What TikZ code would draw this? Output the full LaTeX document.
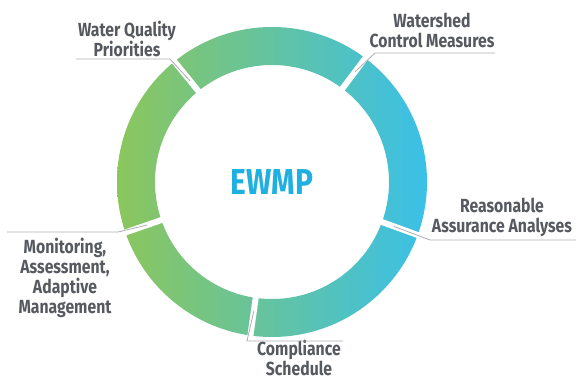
\documentclass[tikz,border=0pt]{standalone}
\usepackage{fontspec}
\usetikzlibrary{calc}
\newfontfamily\labelfont[FakeStretch=0.83]{Fira Sans}
\definecolor{ringgreen}{RGB}{140,198,92}
\definecolor{ringblue}{RGB}{58,192,232}
\definecolor{labelgray}{RGB}{86,90,96}
\definecolor{leadergray}{RGB}{170,175,182}
\definecolor{titleblue}{RGB}{32,175,225}

\begin{document}
\begin{tikzpicture}[x=1pt, y=1pt,
  label/.style={align=center, inner sep=0pt, text=labelgray,
    font={\labelfont\bfseries\fontsize{19}{20}\selectfont}},
  leader/.style={leadergray, line width=0.8pt},
  gap/.style={white, line width=6pt}]
\useasboundingbox (0, 0) rectangle (576, 381);
\coordinate (c) at (272, 199);
% ring
\shade[left color=ringgreen, right color=ringblue, even odd rule]
  (c) circle (155) (c) circle (117);
\foreach \a in {129, 53, -20, -98, -161}
  \draw[gap] ($(c)+(\a:110)$) -- ($(c)+(\a:162)$);
% centre title
\node[text=titleblue, font={\labelfont\bfseries\fontsize{36}{40}\selectfont}] (ewmp) at (c) {EWMP};
% labels
\node[label] (wqp) at (127, 342) {Water Quality\\Priorities};
\node[label] (wcm) at (432, 351) {Watershed\\Control Measures};
\node[label] (raa) at (502, 164) {Reasonable\\Assurance Analyses};
\node[label] (cs) at (299, 23) {Compliance\\Schedule};
\node[label] (maam) at (65, 103) {Monitoring,\\Assessment,\\Adaptive\\Management};
% leader lines
\coordinate (wqpk) at (170, 322);
\coordinate (wcmk) at (375, 328);
\coordinate (raak) at (430, 141);
\coordinate (csk) at (247, 40);
\coordinate (maamk) at (118, 149);
\draw[leader] (76, 322) -- (wqpk) -- ($(c)+(129:130)$);
\draw[leader] (495, 328) -- (wcmk) -- ($(c)+(53:138)$);
\draw[leader] (576, 141) -- (raak) -- ($(c)+(-20:130)$);
\draw[leader] (343, 40) -- (csk) -- ($(c)+(-98:130)$);
\draw[leader] (7, 149) -- (maamk) -- ($(c)+(-161:132)$);
\end{tikzpicture}
\end{document}
